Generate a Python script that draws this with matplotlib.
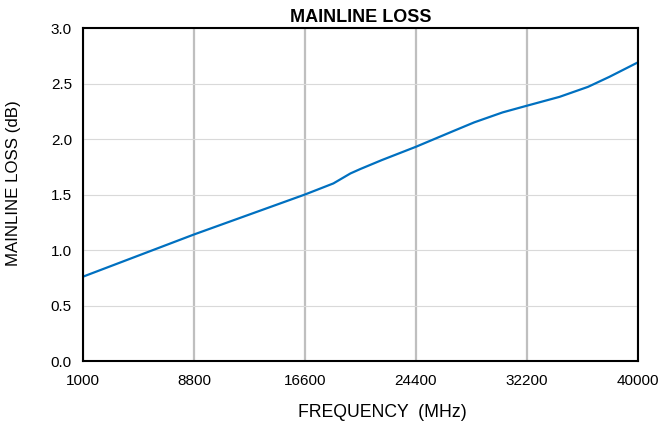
import numpy as np
import matplotlib.pyplot as plt

plt.rcParams['font.family'] = ['Liberation Sans', 'DejaVu Sans']

# values
freq = [1000, 4900, 8800, 12700, 16600, 18000, 18600, 19000, 19400, 19800,
        20500, 22000, 24400, 27000, 28500, 30500, 32200, 34500, 36500, 38000, 40000]
loss = [0.76, 0.95, 1.14, 1.32, 1.50, 1.57, 1.60, 1.63, 1.66, 1.69,
        1.73, 1.81, 1.93, 2.07, 2.15, 2.24, 2.30, 2.38, 2.47, 2.56, 2.69]
xticks = [1000, 8800, 16600, 24400, 32200, 40000]
yticks = [0.0, 0.5, 1.0, 1.5, 2.0, 2.5, 3.0]

fig = plt.figure(figsize=(6.62, 4.28), dpi=100)
ax = fig.add_axes([0.1254, 0.1565, 0.838, 0.778])

for x in xticks:
    ax.axvline(x, color='#BFBFBF', lw=1.6, zorder=1)
for y in yticks:
    ax.axhline(y, color='#D9D9D9', lw=0.8, zorder=1)

ax.plot(freq, loss, color='#0070C0', lw=1.6, zorder=3)

ax.set_xlim(1000, 40000)
ax.set_ylim(0, 3.0)
ax.set_xticks(xticks)
ax.set_xticklabels([str(x) for x in xticks])
ax.set_yticks(yticks)
ax.set_yticklabels(['%.1f' % y for y in yticks])
ax.tick_params(axis='x', length=0, labelsize=11, pad=9)
ax.tick_params(axis='y', length=0, labelsize=11, pad=8)

for s in ax.spines.values():
    s.set_linewidth(1.5)
    s.set_color('black')
    s.set_zorder(4)

ax.set_title('MAINLINE LOSS', fontsize=13, fontweight='bold', pad=4)
ax.set_xlabel('FREQUENCY  (MHz)', fontsize=12.7)
ax.xaxis.set_label_coords(0.54, -0.13)
ax.set_ylabel('MAINLINE LOSS (dB)', fontsize=12.2)
ax.yaxis.set_label_coords(-0.112, 0.535)

fig.savefig('out.png', dpi=100)
